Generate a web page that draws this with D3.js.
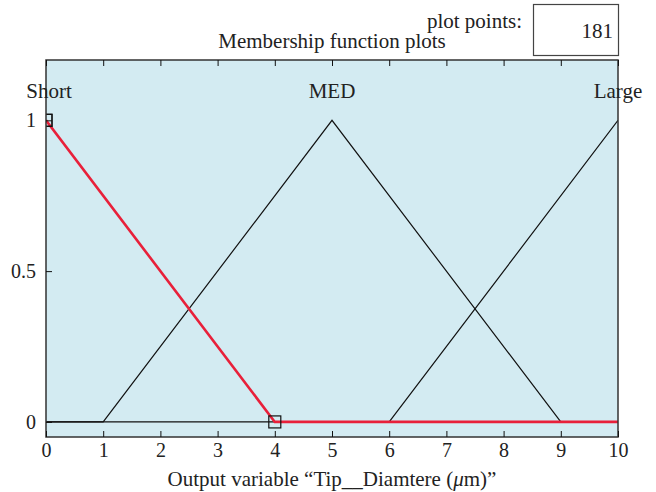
<!DOCTYPE html>
<html lang="en">
<head>
    <meta charset="UTF-8">
    <title>Membership function plots</title>
    <script src="https://d3js.org/d3.v7.min.js"></script>
    <style>
        body { margin: 0; background: #fff; }
        text { font-family: "Liberation Serif", "DejaVu Serif", serif; fill: #222; }
    </style>
</head>
<body>
    <svg id="chart" width="656" height="492"></svg>
    <script>
        // membership functions (triangles: a, b, c)
        const mfNames = ["Short", "MED", "Large"];
        const mfParams = [[-4, 0, 4], [1, 5, 9], [6, 10, 14]];
        const highlighted = "Short";
        const xTicks = [0, 1, 2, 3, 4, 5, 6, 7, 8, 9, 10];
        const yTicks = [0, 0.5, 1];
        const plotPoints = 181;

        const fs = 21;
        const svg = d3.select("#chart");
        const pLeft = 46, pRight = 618, pTop = 60, pBottom = 437;

        const x = d3.scaleLinear().domain([0, 10]).range([pLeft, pRight]);
        const y = d3.scaleLinear().domain([-0.05, 1.2]).range([pBottom, pTop]);

        svg.append("rect")
            .attr("x", pLeft).attr("y", pTop)
            .attr("width", pRight - pLeft).attr("height", pBottom - pTop)
            .attr("fill", "#d3ebf2");

        // clip to plot area
        svg.append("clipPath").attr("id", "clip")
            .append("rect")
            .attr("x", pLeft).attr("y", pTop)
            .attr("width", pRight - pLeft).attr("height", pBottom - pTop);

        const tri = (p, v) => Math.max(0, Math.min((v - p[0]) / (p[1] - p[0]), (p[2] - v) / (p[2] - p[1])));
        const line = d3.line().x(d => x(d[0])).y(d => y(d[1]));
        const vertices = p => [0, p[0], p[1], p[2], 10]
            .filter(v => v >= 0 && v <= 10)
            .sort((a, b) => a - b)
            .map(v => [v, tri(p, v)]);

        const plot = svg.append("g").attr("clip-path", "url(#clip)");

        mfParams.forEach((p, i) => {
            if (mfNames[i] === highlighted) return;
            plot.append("path")
                .attr("d", line(vertices(p)))
                .attr("fill", "none")
                .attr("stroke", "#111")
                .attr("stroke-width", 1.2);
        });

        const hiPts = vertices(mfParams[mfNames.indexOf(highlighted)]);
        plot.append("path")
            .attr("d", line(hiPts))
            .attr("fill", "none")
            .attr("stroke", "#e8203a")
            .attr("stroke-width", 2.6);

        // square markers on the selected function's vertices
        plot.selectAll("rect.marker")
            .data(hiPts.filter(d => (d[0] > 0 && d[0] < 10) || d[1] === 1))
            .enter()
            .append("rect")
            .attr("class", "marker")
            .attr("x", d => x(d[0]) - 6)
            .attr("y", d => y(d[1]) - 6)
            .attr("width", 12).attr("height", 12)
            .attr("fill", "none")
            .attr("stroke", "#111")
            .attr("stroke-width", 1.2);

        // frame
        svg.append("rect")
            .attr("x", pLeft).attr("y", pTop)
            .attr("width", pRight - pLeft).attr("height", pBottom - pTop)
            .attr("fill", "none")
            .attr("stroke", "#333")
            .attr("stroke-width", 1.5);

        // ticks inward
        const xAxisB = d3.axisBottom(x).tickValues(xTicks).tickSize(-6).tickPadding(6);
        svg.append("g").attr("transform", `translate(0,${pBottom})`).call(xAxisB)
            .call(g => g.select(".domain").remove())
            .call(g => g.selectAll("line").attr("stroke", "#111"))
            .call(g => g.selectAll("text").attr("font-size", 20).attr("font-family", "Liberation Serif"));
        const xAxisT = d3.axisTop(x).tickValues(xTicks).tickSize(-6).tickFormat("");
        svg.append("g").attr("transform", `translate(0,${pTop})`).call(xAxisT)
            .call(g => g.select(".domain").remove())
            .call(g => g.selectAll("line").attr("stroke", "#111"));
        const yAxis = d3.axisLeft(y).tickValues(yTicks).tickSize(-6).tickPadding(10).tickFormat(d3.format("~g"));
        svg.append("g").attr("transform", `translate(${pLeft},0)`).call(yAxis)
            .call(g => g.select(".domain").remove())
            .call(g => g.selectAll("line").attr("stroke", "#111"))
            .call(g => g.selectAll("text").attr("font-size", 20).attr("font-family", "Liberation Serif"));

        // mf names
        svg.selectAll("text.mfname")
            .data(mfNames)
            .enter()
            .append("text")
            .attr("class", "mfname")
            .attr("x", (d, i) => x(mfParams[i][1]) + (i === 0 ? 3 : 0))
            .attr("y", y(1.075))
            .attr("text-anchor", "middle")
            .attr("font-size", fs)
            .text(d => d);

        // title and axis label
        svg.append("text")
            .attr("x", (pLeft + pRight) / 2).attr("y", 48)
            .attr("text-anchor", "middle").attr("font-size", fs)
            .text("Membership function plots");

        const xl = svg.append("text")
            .attr("x", (pLeft + pRight) / 2).attr("y", 486)
            .attr("text-anchor", "middle").attr("font-size", fs);
        xl.append("tspan").text("Output variable \u201cTip__Diamtere (");
        xl.append("tspan").attr("font-style", "italic").text("\u03bc");
        xl.append("tspan").text("m)\u201d");

        // plot points box
        svg.append("text")
            .attr("x", 522).attr("y", 28)
            .attr("text-anchor", "end").attr("font-size", fs)
            .text("plot points:");
        svg.append("rect")
            .attr("x", 533.5).attr("y", 4.5)
            .attr("width", 85).attr("height", 51)
            .attr("fill", "#fff").attr("stroke", "#444").attr("stroke-width", 1.2);
        svg.append("text")
            .attr("x", 613).attr("y", 38)
            .attr("text-anchor", "end").attr("font-size", fs)
            .text(plotPoints);
    </script>
</body>
</html>
